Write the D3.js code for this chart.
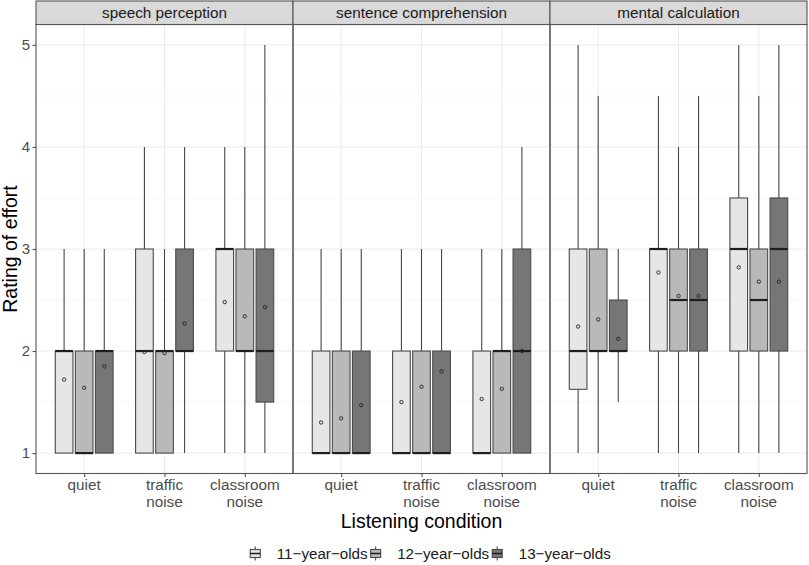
<head>
<meta charset="utf-8">
<style> body { margin: 0; background: #fff; } text { font-family: "Liberation Sans", Arial, sans-serif; } </style>
<script src="https://cdn.jsdelivr.net/npm/d3@7"></script>
</head>
<body>
<div id="chart"></div>
<script>

// facet / category / group names
var panels = ["speech perception", "sentence comprehension", "mental calculation"];
var conditions = ["quiet", "traffic noise", "classroom noise"];
var groups = ["11-year-olds", "12-year-olds", "13-year-olds"];
var fills = ["#e6e6e6", "#b9b9b9", "#767676"];
var yTicks = [1, 2, 3, 4, 5];

// box stats, order: panel > condition > group
var whiskerLow = [1, 1, 1,   1, 1, 1,   1, 1, 1,
                  1, 1, 1,   1, 1, 1,   1, 1, 1,
                  1, 1, 1.5, 1, 1, 1,   1, 1, 1];
var q1 =         [1, 1, 1,   1, 1, 2,   2, 2, 1.5,
                  1, 1, 1,   1, 1, 1,   1, 1, 1,
                  1.625, 2, 2,   2, 2, 2,   2, 2, 2];
var median =     [2, 1, 2,   2, 2, 2,   3, 2, 2,
                  1, 1, 1,   1, 1, 1,   1, 2, 2,
                  2, 2, 2,   3, 2.5, 2.5,   3, 2.5, 3];
var q3 =         [2, 2, 2,   3, 2, 3,   3, 3, 3,
                  2, 2, 2,   2, 2, 2,   2, 2, 3,
                  3, 3, 2.5,   3, 3, 3,   3.5, 3, 3.5];
var whiskerHigh =[3, 3, 3,   4, 3, 4,   4, 4, 5,
                  3, 3, 3,   3, 3, 3,   3, 3, 4,
                  5, 4.5, 3,   4.5, 4, 4.5,   5, 4.5, 5];
var means =      [1.72, 1.64, 1.85,   1.99, 1.98, 2.27,   2.48, 2.34, 2.43,
                  1.30, 1.34, 1.47,   1.50, 1.65, 1.80,   1.53, 1.63, 2.00,
                  2.24, 2.31, 2.12,   2.77, 2.54, 2.54,   2.82, 2.68, 2.68];

var W = 809, H = 565;
var pLeft = 36, pTop = 24.5, pBottom = 473.5, stripTop = 1, panelW = 257;

var svg = d3.select("#chart").append("svg")
    .attr("width", W)
    .attr("height", H);

var y = d3.scaleLinear()
    .domain([0.8, 5.2])
    .range([pBottom, pTop]);

var x = d3.scalePoint()
    .domain(conditions)
    .range([0, panelW])
    .padding(0.6);

var step = x.step();
var xg = d3.scaleBand()
    .domain(groups)
    .range([-0.375 * step, 0.375 * step]);
var boxW = xg.bandwidth() * 0.88;

var rows = [];
panels.forEach(function(p, pi) {
    conditions.forEach(function(c, ci) {
        groups.forEach(function(g, gi) {
            var i = pi * 9 + ci * 3 + gi;
            rows.push({panel: pi, cond: c, group: g, gi: gi,
                lo: whiskerLow[i], q1: q1[i], med: median[i], q3: q3[i], hi: whiskerHigh[i], mean: means[i]});
        });
    });
});

panels.forEach(function(p, pi) {
    var g = svg.append("g").attr("transform", "translate(" + (pLeft + pi * panelW) + ",0)");

    // grid
    var minor = [1.5, 2.5, 3.5, 4.5];
    g.selectAll(".gmin").data(minor).enter().append("line")
        .attr("x1", 0).attr("x2", panelW)
        .attr("y1", d => y(d)).attr("y2", d => y(d))
        .attr("stroke", "#f2f2f2").attr("stroke-width", 0.6);
    g.selectAll(".gmaj").data(yTicks).enter().append("line")
        .attr("x1", 0).attr("x2", panelW)
        .attr("y1", d => y(d)).attr("y2", d => y(d))
        .attr("stroke", "#ebebeb").attr("stroke-width", 1);
    g.selectAll(".gx").data(conditions).enter().append("line")
        .attr("x1", d => x(d)).attr("x2", d => x(d))
        .attr("y1", pTop).attr("y2", pBottom)
        .attr("stroke", "#ebebeb").attr("stroke-width", 1);

    var data = rows.filter(d => d.panel == pi);
    var cx = d => x(d.cond) + xg(d.group) + xg.bandwidth() / 2;

    var b = g.selectAll(".box").data(data).enter().append("g");
    b.append("line")
        .attr("x1", cx).attr("x2", cx)
        .attr("y1", d => y(d.hi)).attr("y2", d => y(d.q3))
        .attr("stroke", "#474747").attr("stroke-width", 1.1);
    b.append("line")
        .attr("x1", cx).attr("x2", cx)
        .attr("y1", d => y(d.q1)).attr("y2", d => y(d.lo))
        .attr("stroke", "#474747").attr("stroke-width", 1.1);
    b.append("rect")
        .attr("x", d => cx(d) - boxW / 2)
        .attr("width", boxW)
        .attr("y", d => y(d.q3))
        .attr("height", d => y(d.q1) - y(d.q3))
        .attr("fill", d => fills[d.gi])
        .attr("stroke", "#4a4a4a").attr("stroke-width", 1.1);
    b.append("line")
        .attr("x1", d => cx(d) - boxW / 2).attr("x2", d => cx(d) + boxW / 2)
        .attr("y1", d => y(d.med)).attr("y2", d => y(d.med))
        .attr("stroke", "#1e1e1e").attr("stroke-width", 2.2);
    b.append("circle")
        .attr("cx", cx).attr("cy", d => y(d.mean))
        .attr("r", 1.7)
        .attr("fill", "none").attr("stroke", "#222").attr("stroke-width", 0.9);

    // panel border
    g.append("rect")
        .attr("x", 0).attr("y", pTop).attr("width", panelW).attr("height", pBottom - pTop)
        .attr("fill", "none").attr("stroke", "#555").attr("stroke-width", 1.1);

    // strip
    g.append("rect")
        .attr("x", 0).attr("y", stripTop).attr("width", panelW).attr("height", pTop - stripTop)
        .attr("fill", "#d9d9d9").attr("stroke", "#555").attr("stroke-width", 1.1);
    g.append("text")
        .attr("x", panelW / 2).attr("y", 18)
        .attr("text-anchor", "middle")
        .attr("font-size", "15.3px").attr("fill", "#1a1a1a")
        .text(p);

    // x axis
    var xa = g.append("g").attr("transform", "translate(0," + pBottom + ")")
        .call(d3.axisBottom(x).tickSize(3.5).tickPadding(4).tickFormat(""));
    xa.select(".domain").remove();
    xa.selectAll("line").attr("stroke", "#555").attr("stroke-width", 1.1);
    var lab = g.selectAll(".xl").data(conditions).enter().append("text")
        .attr("text-anchor", "middle")
        .attr("font-size", "15.3px").attr("fill", "#4d4d4d");
    lab.each(function(d) {
        var parts = d.split(" ");
        var t = d3.select(this);
        parts.forEach(function(s, k) {
            t.append("tspan").attr("x", x(d)).attr("y", 490 + k * 16.8).text(s);
        });
    });
});

// y axis
var ya = svg.append("g").attr("transform", "translate(" + pLeft + ",0)")
    .call(d3.axisLeft(y).tickValues(yTicks).tickSize(3.5).tickPadding(2.5).tickFormat(d3.format("d")));
ya.select(".domain").remove();
ya.selectAll("line").attr("stroke", "#555").attr("stroke-width", 1.1);
ya.selectAll("text").attr("font-size", "15px").attr("fill", "#4d4d4d")
    .style("font-family", "'Liberation Sans', Arial, sans-serif");

// titles
svg.append("text")
    .attr("transform", "translate(16.5," + ((pTop + pBottom) / 2) + ") rotate(-90)")
    .attr("text-anchor", "middle")
    .attr("font-size", "19.5px").attr("fill", "#000")
    .text("Rating of effort");
svg.append("text")
    .attr("x", 421.5).attr("y", 527.5)
    .attr("text-anchor", "middle")
    .attr("font-size", "19.5px").attr("fill", "#000")
    .text("Listening condition");

// legend
var leg = svg.append("g");
var lx = 0;
groups.forEach(function(gname, gi) {
    var k = leg.append("g").attr("transform", "translate(" + lx + ",0)");
    k.append("line").attr("x1", 5).attr("x2", 5).attr("y1", 546.5).attr("y2", 560.5)
        .attr("stroke", "#474747").attr("stroke-width", 1.1);
    k.append("rect").attr("x", 0).attr("y", 549.5).attr("width", 10).attr("height", 8)
        .attr("fill", fills[gi]).attr("stroke", "#4a4a4a").attr("stroke-width", 1.1);
    k.append("line").attr("x1", 0).attr("x2", 10).attr("y1", 553.5).attr("y2", 553.5)
        .attr("stroke", "#1e1e1e").attr("stroke-width", 1.5);
    var t = leg.append("text")
        .attr("x", lx + 26.5).attr("y", 558.5)
        .attr("font-size", "15.2px").attr("fill", "#1a1a1a")
        .text(gname.replace(/-/g, "\u2212"));
    lx = lx + 26.5 + t.node().getComputedTextLength() + 3;
});
leg.attr("transform", "translate(" + (432 - lx / 2) + ",0)");

</script>
</body>
